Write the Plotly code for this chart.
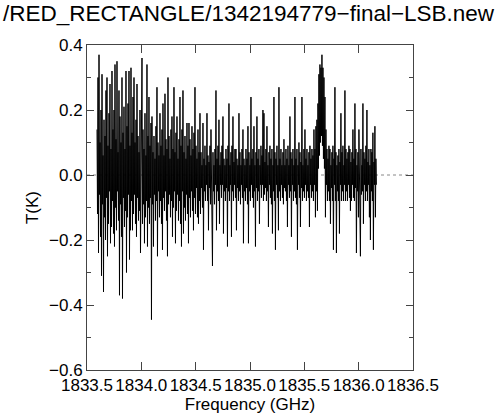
import numpy as np
import plotly.graph_objects as go

# ---- data ----
title_text = "/RED_RECTANGLE/1342194779\u2212final\u2212LSB.new"
freq_start_ghz = 1833.592     # first channel
channel_width_ghz = 0.0046    # channel spacing

# antenna temperature per channel (K), consecutive channels
t_k = [
 0.14,-0.12, 0.30,-0.24, 0.37,-0.06, 0.10,-0.19, 0.20,-0.31, 0.31,-0.09, 0.06,-0.36, 0.17,-0.13,
 0.12,-0.20, 0.26,-0.07, 0.30,-0.25, 0.09,-0.15, 0.19,-0.05, 0.28,-0.21, 0.08,-0.16, 0.32,-0.08,
 0.14,-0.18, 0.20,-0.22, 0.34,-0.10, 0.11,-0.17, 0.35,-0.05, 0.07,-0.14, 0.26,-0.37, 0.18,-0.09,
 0.10,-0.19, 0.30,-0.38, 0.13,-0.07, 0.21,-0.16, 0.08,-0.11, 0.32,-0.30, 0.15,-0.13, 0.22,-0.06,
 0.32,-0.26, 0.09,-0.17, 0.33,-0.08, 0.13,-0.17, 0.24,-0.12, 0.30,-0.06, 0.10,-0.15, 0.17,-0.19,
 0.28,-0.07, 0.12,-0.14, 0.07,-0.11, 0.20,-0.24, 0.11,-0.06, 0.36,-0.15, 0.14,-0.09, 0.08,-0.21,
 0.19,-0.13, 0.06,-0.08, 0.34,-0.22, 0.12,-0.10, 0.24,-0.15, 0.09,-0.07, 0.16,-0.445, 0.18,-0.09,
 0.07,-0.22, 0.12,-0.06, 0.05,-0.14, 0.15,-0.08, 0.27,-0.25, 0.10,-0.05, 0.06,-0.13, 0.19,-0.08,
 0.09,-0.15, 0.14,-0.23, 0.22,-0.07, 0.06,-0.11, 0.25,-0.05, 0.11,-0.14, 0.08,-0.25, 0.30,-0.09,
 0.12,-0.06, 0.05,-0.13, 0.14,-0.08, 0.18,-0.19, 0.08,-0.10, 0.27,-0.05, 0.07,-0.21, 0.13,-0.11,
 0.18,-0.06, 0.05,-0.14, 0.11,-0.08, 0.24,-0.15, 0.09,-0.22, 0.14,-0.05, 0.26,-0.18, 0.07,-0.10,
 0.12,-0.14, 0.05,-0.06, 0.16,-0.12, 0.09,-0.21, 0.16,-0.07, 0.11,-0.13, 0.06,-0.05, 0.15,-0.11,
 0.08,-0.17, 0.13,-0.07, 0.27,-0.12, 0.09,-0.04, 0.05,-0.13, 0.14,-0.15, 0.07,-0.08, 0.19,-0.12,
 0.07,-0.04, 0.03,-0.10, 0.16,-0.23, 0.05,-0.05, 0.09,-0.08, 0.03,-0.03, 0.19,-0.08, 0.06,-0.17,
 0.04,-0.04, 0.09,-0.09, 0.14,-0.03, 0.03,-0.28, 0.07,-0.05, 0.03,-0.09, 0.08,-0.03, 0.26,-0.17,
 0.05,-0.05, 0.09,-0.08, 0.17,-0.15, 0.03,-0.03, 0.07,-0.07, 0.09,-0.03, 0.18,-0.18, 0.05,-0.05,
 0.03,-0.08, 0.08,-0.04, 0.05,-0.22, 0.09,-0.05, 0.22,-0.08, 0.03,-0.03, 0.07,-0.19, 0.09,-0.05,
 0.18,-0.08, 0.04,-0.03, 0.08,-0.07, 0.08,-0.17, 0.05,-0.04, 0.03,-0.08, 0.19,-0.05, 0.07,-0.09,
 0.03,-0.03, 0.08,-0.07, 0.14,-0.21, 0.05,-0.05, 0.03,-0.08, 0.08,-0.04, 0.05,-0.09, 0.15,-0.21,
 0.07,-0.05, 0.03,-0.08, 0.24,-0.03, 0.05,-0.07, 0.08,-0.10, 0.15,-0.05, 0.03,-0.22, 0.07,-0.04,
 0.18,-0.08, 0.05,-0.05, 0.08,-0.15, 0.03,-0.03, 0.09,-0.07, 0.06,-0.03, 0.20,-0.08, 0.19,-0.06,
 0.04,-0.04, 0.08,-0.08, 0.15,-0.05, 0.03,-0.16, 0.07,-0.03, 0.09,-0.07, 0.05,-0.09, 0.08,-0.18,
 0.03,-0.05, 0.24,-0.08, 0.07,-0.23, 0.05,-0.03, 0.09,-0.07, 0.03,-0.17, 0.27,-0.05, 0.05,-0.08,
 0.08,-0.03, 0.03,-0.07, 0.07,-0.09, 0.11,-0.04, 0.03,-0.05, 0.08,-0.08, 0.05,-0.16, 0.09,-0.03,
 0.03,-0.07, 0.18,-0.05, 0.07,-0.19, 0.05,-0.03, 0.08,-0.08, 0.03,-0.05, 0.24,-0.07, 0.05,-0.09,
 0.08,-0.23, 0.03,-0.03, 0.10,-0.07, 0.07,-0.16, 0.04,-0.04, 0.24,-0.08, 0.03,-0.05, 0.08,-0.07,
 0.14,-0.03, 0.05,-0.08, 0.08,-0.05, 0.03,-0.07, 0.07,-0.16, 0.09,-0.03, 0.05,-0.07, 0.08,-0.05,
 0.06,-0.08, 0.14,-0.03, 0.08,-0.13, 0.15,-0.05, 0.17,-0.11, 0.22, 0.02, 0.31, 0.06, 0.34, 0.10,
 0.33, 0.12, 0.37, 0.09, 0.33, 0.05, 0.30, 0.02, 0.24,-0.13, 0.14,-0.03, 0.08,-0.08, 0.05,-0.05,
 0.09,-0.08, 0.08,-0.15, 0.03,-0.04, 0.07,-0.08, 0.09,-0.23, 0.05,-0.03, 0.27,-0.08, 0.07,-0.24,
 0.03,-0.05, 0.06,-0.08, 0.08,-0.18, 0.04,-0.03, 0.19,-0.08, 0.07,-0.05, 0.09,-0.08, 0.03,-0.03,
 0.26,-0.08, 0.08,-0.05, 0.05,-0.08, 0.07,-0.03, 0.09,-0.07, 0.08,-0.11, 0.04,-0.08, 0.07,-0.03,
 0.14,-0.07, 0.05,-0.08, 0.22,-0.04, 0.08,-0.24, 0.03,-0.05, 0.07,-0.13, 0.14,-0.03, 0.05,-0.25,
 0.08,-0.06, 0.03,-0.05, 0.22,-0.15, 0.07,-0.03, 0.05,-0.08, 0.09,-0.05, 0.20,-0.08, 0.04,-0.03,
 0.08,-0.13, 0.03,-0.20, 0.08,-0.05, 0.07,-0.08, 0.13,-0.23, 0.04,-0.03, 0.15,-0.13, 0.05,-0.03,
]

x_range = [1833.5, 1836.5]
y_range = [-0.6, 0.4]
x_ticks = [1833.5, 1834.0, 1834.5, 1835.0, 1835.5, 1836.0, 1836.5]
x_tick_labels = ["1833.5", "1834.0", "1834.5", "1835.0", "1835.5", "1836.0", "1836.5"]
y_ticks = [-0.6, -0.4, -0.2, 0.0, 0.2, 0.4]
y_tick_labels = ["\u22120.6", "\u22120.4", "\u22120.2", "0.0", "0.2", "0.4"]

freq = freq_start_ghz + channel_width_ghz * np.arange(len(t_k))

FONT = "Liberation Sans, Arial, Helvetica, sans-serif"
AX = "#444444"
W, H = 500, 417
ML, MR, MT, MB = 87, 87, 45, 47

fig = go.Figure()
fig.add_trace(go.Scatter(x=freq, y=t_k, mode="lines",
                         line=dict(color="black", width=1), hoverinfo="skip",
                         showlegend=False))

fig.add_shape(type="line", xref="paper", x0=0, x1=1, yref="y", y0=0, y1=0,
              line=dict(color="#888888", width=1, dash="dot"), layer="below")

axis_common = dict(showgrid=False, zeroline=False, showline=True, linecolor=AX,
                   linewidth=1, mirror="allticks", ticks="inside", tickcolor=AX,
                   automargin=False,
                   tickfont=dict(family=FONT, size=17, color="black"))

fig.update_xaxes(range=x_range, tickvals=x_ticks, ticktext=x_tick_labels,
                 ticklen=8, title=dict(text="Frequency (GHz)",
                                       font=dict(family=FONT, size=17, color="black"),
                                       standoff=2),
                 **axis_common)
fig.update_yaxes(range=y_range, tickvals=y_ticks, ticktext=y_tick_labels,
                 ticklen=7,
                 minor=dict(dtick=0.1, tick0=0, ticks="inside", ticklen=4, tickcolor=AX),
                 title=dict(text="T(K)", font=dict(family=FONT, size=17, color="black"),
                            standoff=6),
                 **axis_common)

pw, ph = W - ML - MR, H - MT - MB
fig.add_annotation(text=title_text, xref="paper", yref="paper",
                   x=(497 - ML) / pw, xanchor="right",
                   y=(H - MB - 13) / ph, yanchor="middle",
                   showarrow=False,
                   font=dict(family=FONT, size=22.5, color="black"))

fig.update_layout(
    width=W, height=H,
    margin=dict(l=ML, r=MR, t=MT, b=MB, pad=0),
    paper_bgcolor="white", plot_bgcolor="white",
)

fig.write_html("out.html", config={"displayModeBar": False},
               post_script="document.body.style.margin='0';document.body.style.padding='0';")
